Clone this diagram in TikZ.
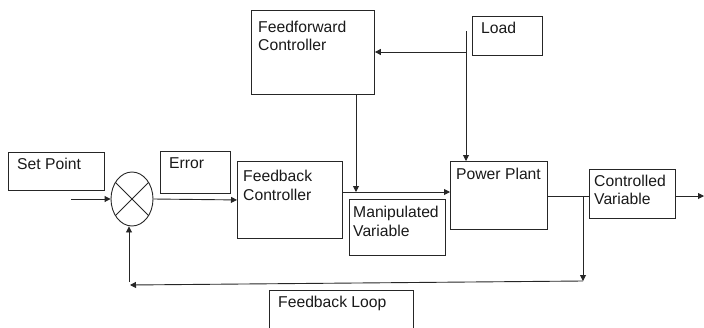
\documentclass[tikz,border=0pt]{standalone}
\usepackage{fontspec}
\setmainfont{Liberation Sans}
\usetikzlibrary{arrows.meta,shapes.geometric}
\begin{document}
\begin{tikzpicture}[x=1pt,y=-1pt,
  ln/.style={draw=black!85,line width=0.9pt},
  arr/.style={ln,-{Triangle[length=6pt,width=6pt]}},
  box/.style={ln,rectangle,inner sep=0pt,anchor=north west},
  txt/.style={inner sep=0pt,anchor=base west,text=black!90,font=\fontsize{15.7}{18}\selectfont}]
\clip (0,0) rectangle (704,327);
\useasboundingbox (0,0) rectangle (704,327);
% boxes
\node[box,minimum width=96pt,minimum height=38pt] (sp) at (8,152) {};
\node[box,minimum width=70pt,minimum height=42pt] (err) at (160,151) {};
\node[box,minimum width=105pt,minimum height=77pt] (fbc) at (237,161) {};
\node[box,minimum width=123pt,minimum height=84pt] (ffc) at (251,10) {};
\node[box,minimum width=70pt,minimum height=39pt] (load) at (472,16) {};
\node[box,minimum width=96pt,minimum height=56pt] (mv) at (349,199) {};
\node[box,minimum width=97pt,minimum height=68pt] (pp) at (450,161) {};
\node[box,minimum width=86pt,minimum height=49pt] (cv) at (589,169) {};
\node[box,minimum width=144pt,minimum height=60pt] (fl) at (269,290) {};
\node[ln,ellipse,minimum width=42pt,minimum height=54pt,inner sep=0pt] (sum) at (132,199) {};
\draw[ln] (sum.45) -- (sum.225) (sum.135) -- (sum.315);
% texts
\node[txt] (tsp) at (17,169) {Set Point};
\node[txt] (terr) at (169,168) {Error};
\node[txt] (tfbc1) at (243,181) {Feedback};
\node[txt] (tfbc2) at (243,200) {Controller};
\node[txt] (tffc1) at (258,32) {Feedforward};
\node[txt] (tffc2) at (258,50) {Controller};
\node[txt] (tload) at (481,33) {Load};
\node[txt] (tmv1) at (353,217) {Manipulated};
\node[txt] (tmv2) at (353,236) {Variable};
\node[txt] (tpp) at (456,179) {Power Plant};
\node[txt] (tcv1) at (594,186) {Controlled};
\node[txt] (tcv2) at (594,204) {Variable};
\node[txt] (tfl) at (278,307) {Feedback Loop};
% coordinates
\coordinate (in) at (71,199);
\coordinate (j1) at (356,192);
\coordinate (lt) at (466,31);
\coordinate (j2) at (466,52);
\coordinate (j3) at (583,196);
\coordinate (j4) at (583,281);
\coordinate (j5) at (130,285);
\coordinate (j6) at (129,282);
\coordinate (out) at (704,196);
% connectors
\draw[arr] (in) -- (sum.west);
\draw[arr] (sum.east) -- (fbc.west);
\draw[arr] (ffc.south -| j1) -- (j1);
\draw[arr] (fbc.east |- j1) -- (pp.west |- j1);
\draw[ln] (lt) -- (j2);
\draw[arr] (j2) -- (pp.north -| j2);
\draw[arr] (j2) -- (j2 -| ffc.east);
\draw[ln] (pp.east |- j3) -- (cv.west |- j3);
\draw[arr] (cv.east |- j3) -- (out);
\draw[arr] (j3) -- (j4);
\draw[arr] (j4) -- (j5);
\draw[arr] (j6) -- (sum.south -| j6);
\end{tikzpicture}
\end{document}
